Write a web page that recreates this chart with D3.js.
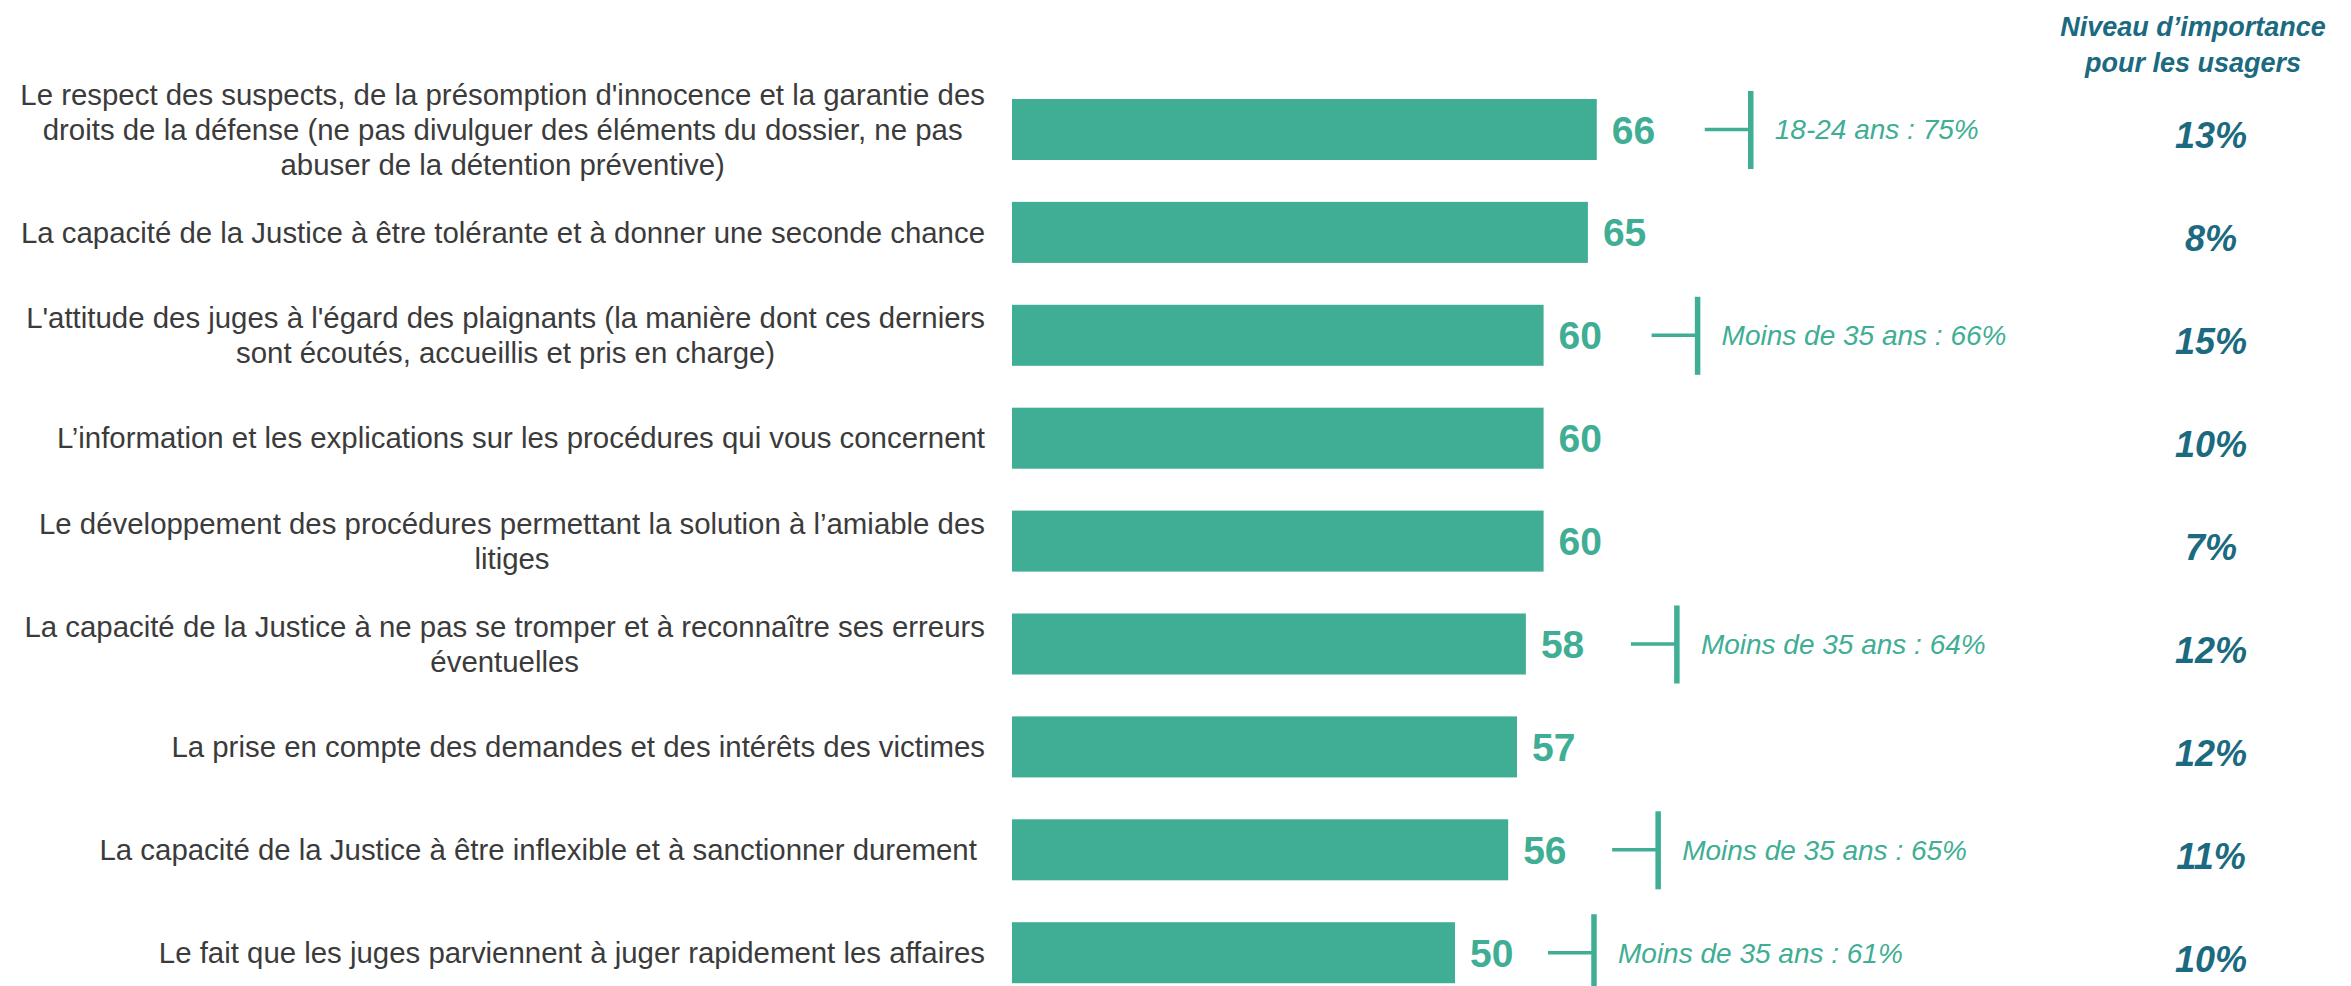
<!DOCTYPE html>
<html><head><meta charset="utf-8">
<script src="https://cdn.jsdelivr.net/npm/d3@7"></script>
<style>
html,body{margin:0;padding:0;background:#fff;}
svg{display:block;}
text{white-space:pre;}
</style></head>
<body>
<svg id="chart" width="2351" height="986"></svg>
<script>
const categories = [
  "Le respect des suspects, de la présomption d'innocence et la garantie des\ndroits de la défense (ne pas divulguer des éléments du dossier, ne pas\nabuser de la détention préventive)",
  "La capacité de la Justice à être tolérante et à donner une seconde chance",
  "L'attitude des juges à l'égard des plaignants (la manière dont ces derniers\nsont écoutés, accueillis et pris en charge)",
  "L’information et les explications sur les procédures qui vous concernent",
  "Le développement des procédures permettant la solution à l’amiable des\nlitiges",
  "La capacité de la Justice à ne pas se tromper et à reconnaître ses erreurs\néventuelles",
  "La prise en compte des demandes et des intérêts des victimes",
  "La capacité de la Justice à être inflexible et à sanctionner durement ",
  "Le fait que les juges parviennent à juger rapidement les affaires"
];
const values = [66, 65, 60, 60, 60, 58, 57, 56, 50];
const subgroupNotes = ["18-24 ans : 75%", null, "Moins de 35 ans : 66%", null, null, "Moins de 35 ans : 64%", null, "Moins de 35 ans : 65%", "Moins de 35 ans : 61%"];
const importance = ["13%", "8%", "15%", "10%", "7%", "12%", "12%", "11%", "10%"];
const importanceTitle = ["Niveau d’importance", "pour les usagers"];

// layout (not data)
const TEAL = "#3fae94", DARK = "#1b6a80", GREY = "#3b3b3b";
const FONT = "Liberation Sans, Arial, sans-serif";
const noteShift = [0, 0, 0, 0, 0, -3, 0, -4, -15];
const svg = d3.select("#chart");

const x = d3.scaleLinear().domain([0, 100]).range([1012, 1898]);
const y = d3.scaleBand().domain(d3.range(categories.length))
  .range([78.4, 1003.8]).paddingInner(0.407).paddingOuter(0.2);

// bars
svg.append("g").selectAll("rect").data(values).join("rect")
  .attr("x", x(0)).attr("y", (d, i) => y(i))
  .attr("width", d => x(d) - x(0)).attr("height", y.bandwidth())
  .attr("fill", TEAL);

// value labels
svg.append("g").selectAll("text").data(values).join("text")
  .attr("x", d => x(d) + 15).attr("y", (d, i) => y(i) + y.bandwidth() / 2)
  .attr("dy", "0.36em")
  .attr("font-family", FONT)
  .attr("font-weight", "bold").attr("font-size", 39).attr("fill", TEAL)
  .text(d => d);

// category labels (block right-aligned, lines centered inside block)
const labelRight = 985, lineH = 35;
const lg = svg.append("g").attr("font-family", FONT)
  .attr("font-size", 29.4).attr("fill", GREY);
categories.forEach((c, i) => {
  const lines = c.split("\n");
  const cy = y(i) + y.bandwidth() / 2;
  const t = lg.append("text").attr("text-anchor", "middle");
  const spans = lines.map((l, k) => t.append("tspan").attr("y", cy + (k - (lines.length - 1) / 2) * lineH).attr("dy", "0.35em").text(l));
  const w = d3.max(spans, s => s.node().getComputedTextLength());
  spans.forEach(s => s.attr("x", labelRight - w / 2));
});

// sub-group annotations
const ag = svg.append("g");
values.forEach((v, i) => {
  const note = subgroupNotes[i];
  if (!note) return;
  const cy = y(i) + y.bandwidth() / 2;
  const base = x(v) + noteShift[i];
  const vx = base + 154;
  ag.append("line").attr("x1", base + 108).attr("x2", vx).attr("y1", cy).attr("y2", cy)
    .attr("stroke", TEAL).attr("stroke-width", 3.5);
  ag.append("line").attr("x1", vx).attr("x2", vx)
    .attr("y1", y(i) - 8).attr("y2", y(i) + y.bandwidth() + 9)
    .attr("stroke", TEAL).attr("stroke-width", 5.5);
  ag.append("text").attr("x", vx + 24).attr("y", cy).attr("dy", "0.35em")
    .attr("font-family", FONT)
    .attr("font-style", "italic").attr("font-size", 28).attr("fill", TEAL)
    .text(note);
});

// importance column
svg.append("g").selectAll("text").data(importanceTitle).join("text")
  .attr("x", 2193).attr("y", (d, i) => 27 + i * 36).attr("dy", "0.35em")
  .attr("text-anchor", "middle")
  .attr("font-family", FONT)
  .attr("font-weight", "bold").attr("font-style", "italic")
  .attr("font-size", 27).attr("fill", DARK).text(d => d);

svg.append("g").selectAll("text").data(importance).join("text")
  .attr("x", 2211).attr("y", (d, i) => y(i) + y.bandwidth() / 2 + 6).attr("dy", "0.36em")
  .attr("text-anchor", "middle")
  .attr("font-family", FONT)
  .attr("font-weight", "bold").attr("font-style", "italic")
  .attr("font-size", 36).attr("fill", DARK).text(d => d);
</script>
</body></html>
